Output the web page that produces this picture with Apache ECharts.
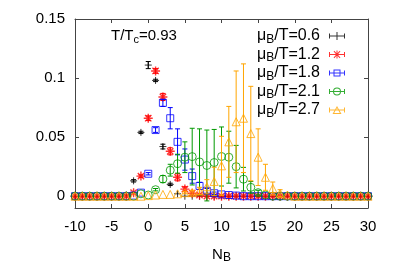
<!DOCTYPE html>
<html><head><meta charset="utf-8">
<script src="https://cdn.jsdelivr.net/npm/echarts@6/dist/echarts.min.js"></script>
<style>html,body{margin:0;padding:0;background:#fff}#c{width:399px;height:279px}</style>
</head><body><div id="c"></div>
<script>
// N_B values (x)
const nb = [-10,-9,-8,-7,-6,-5,-4,-3,-2,-1,0,1,2,3,4,5,6,7,8,9,10,11,12,13,14,15,16,17,18,19,20,21,22,23,24,25,26,27,28,29,30];
// mu_B/T = 0.6
const v06 = [0,0,0,0,0,0,0,0.001,0.013,0.054,0.111,0.098,0.042,0.010,0.002,0,0,0,0,0,0,0,0,0,0,0,0,0,0,0,0,0,0,0,0,0,0,0,0,0,0];
const e06 = [0,0,0,0,0,0,0,0,0.001,0.001,0.003,0.001,0.002,0.001,0,0,0,0,0,0,0,0,0,0,0,0,0,0,0,0,0,0,0,0,0,0,0,0,0,0,0];
// mu_B/T = 1.2
const v12 = [0,0,0,0,0,0,0,0,0.003,0.017,0.066,0.106,0.084,0.038,0.016,0.006,0.0025,0.001,0,0,0,0,0,0,0,0,0,0,0,0,0,0,0,0,0,0,0,0,0,0,0];
const e12 = [0,0,0,0,0,0,0,0,0,0.001,0.002,0.002,0.003,0.003,0.003,0.002,0,0,0,0,0,0,0,0,0,0,0,0,0,0,0,0,0,0,0,0,0,0,0,0,0];
// mu_B/T = 1.8
const v18 = [0,0,0,0,0,0,0,0,0.0005,0.003,0.019,0.056,0.079,0.066,0.046,0.031,0.017,0.0087,0.0045,0.0025,0.0015,0.001,0.0005,0,0,0,0,0,0,0,0,0,0,0,0,0,0,0,0,0,0];
const e18 = [0,0,0,0,0,0,0,0,0,0,0.001,0.002,0.003,0.009,0.011,0.009,0.006,0.003,0.002,0.001,0,0,0,0,0,0,0,0,0,0,0,0,0,0,0,0,0,0,0,0,0];
// mu_B/T = 2.1
const v21 = [0,0,0,0,0,0,0,0,0,0.002,0.001,0.0055,0.0145,0.022,0.0275,0.033,0.0335,0.029,0.026,0.0285,0.0336,0.033,0.025,0.0144,0.0075,0.003,0.001,0,0,0,0,0,0,0,0,0,0,0,0,0,0];
const e21 = [0,0,0,0,0,0,0,0,0,0,0,0.001,0.003,0.005,0.008,0.013,0.024,0.028,0.030,0.028,0.025,0.022,0.018,0.010,0.005,0.002,0,0,0,0,0,0,0,0,0,0,0,0,0,0,0];
// mu_B/T = 2.7
const v27 = [0,0,0,0,0,0,0,0,0,0,0.0005,0.001,0.0015,0.0015,0.002,0.003,0.003,0.0045,0.008,0.0125,0.0257,0.046,0.063,0.066,0.053,0.033,0.016,0.0065,0.0025,0.001,0,0,0,0,0,0,0,0,0,0,0];
const e27 = [0,0,0,0,0,0,0,0,0,0,0,0,0,0,0,0.001,0.002,0.003,0.006,0.012,0.025,0.030,0.043,0.046,0.040,0.024,0.011,0.0055,0.003,0,0,0,0,0,0,0,0,0,0,0,0];
const yTicks = [0, 0.05, 0.1, 0.15];
const names = ['0.6','1.2','1.8','2.1','2.7'];

const FONT = '"Liberation Sans", Arial, sans-serif';
const colors = ['#000000','#ff0000','#0000ff','#009900','#ffa500'];
const vals = [v06,v12,v18,v21,v27];
const errs = [e06,e12,e18,e21,e27];
const symbols = [
  'path://M5 0L5 10M0 5L10 5',
  'path://M5 0L5 10M0 5L10 5M1.5 1.5L8.5 8.5M1.5 8.5L8.5 1.5',
  'rect','circle','triangle'
];
const symSizes = [7,9,7,8,8];
const symBorder = [1,1.4,1,1,1];
// legend icons (16x8 box): error-bar sample with marker
const bar = 'M0 3.5H16V4.5H0Z M0 1.5H1V6.5H0Z M15 1.5H16V6.5H15Z ';
const legIcons = [
  'path://' + bar + 'M7.5 0H8.5V8H7.5Z',
  'path://' + bar + 'M7.5 0H8.5V8H7.5Z M4.6 0.9L5.3 0.2L11.4 7.1L10.7 7.8Z M4.6 7.1L10.7 0.2L11.4 0.9L5.3 7.8Z',
  'path://' + bar + 'M4.5 0.5H11.5V7.5H4.5Z M5.5 1.5V6.5H10.5V1.5Z',
  'path://' + bar + 'M12 4A4 4 0 1 1 4 4A4 4 0 1 1 12 4Z M11 4A3 3 0 1 0 5 4A3 3 0 1 0 11 4Z',
  'path://' + bar + 'M8 0L12.5 8H3.5Z M8 2L5.2 7H10.8Z'
];

const series = [];
const legendData = [];
vals.forEach((vs, k) => {
  const name = 'mu' + names[k];
  const filled = k < 2;
  series.push({
    type: 'custom', name: name + '_err', xAxisIndex: 0, yAxisIndex: 0, z: 2 + k, clip: true,
    silent: true,
    data: nb.map((n, i) => [n, vs[i], errs[k][i]]).filter(d => d[2] > 0),
    renderItem: function (params, api) {
      const x = api.value(0), v = api.value(1), e = api.value(2);
      const lo = api.coord([x, v - e]), hi = api.coord([x, v + e]);
      const c = 2.5;
      const st = { stroke: colors[k], lineWidth: 1, fill: null };
      return { type: 'group', children: [
        { type: 'line', shape: { x1: lo[0], y1: lo[1], x2: hi[0], y2: hi[1] }, style: st },
        { type: 'line', shape: { x1: lo[0] - c, y1: lo[1], x2: lo[0] + c, y2: lo[1] }, style: st },
        { type: 'line', shape: { x1: hi[0] - c, y1: hi[1], x2: hi[0] + c, y2: hi[1] }, style: st }
      ]};
    }
  });
  series.push({
    type: 'scatter', name: name, xAxisIndex: 0, yAxisIndex: 0, z: 2 + k,
    symbol: symbols[k], symbolSize: symSizes[k], silent: true,
    itemStyle: filled ? { color: colors[k], borderColor: colors[k], borderWidth: symBorder[k] }
                      : { color: 'rgba(0,0,0,0)', borderColor: colors[k], borderWidth: symBorder[k] },
    emphasis: { disabled: true },
    data: nb.map((n, i) => [n, vs[i]])
  });
  legendData.push({ name: name, icon: legIcons[k], itemStyle: { color: colors[k], borderWidth: 0 } });
});

const axLine = { show: true, onZero: false, lineStyle: { color: '#444', width: 1 } };
const chart = echarts.init(document.getElementById('c'), null, { renderer: 'canvas' });
chart.setOption({
  animation: false,
  backgroundColor: '#ffffff',
  textStyle: { fontFamily: FONT },
  grid: { left: 75, right: 31, top: 19, bottom: 71 },
  title: {
    text: '{a|T/T}{s|c}{a|=0.93}', left: 106, top: 22,
    textStyle: { rich: {
      a: { fontSize: 15, fontWeight: 'normal', fontFamily: FONT, color: '#000' },
      s: { fontSize: 11, fontWeight: 'normal', fontFamily: FONT, color: '#000', padding: [7, 0, 0, 0] }
    } }
  },
  legend: {
    orient: 'vertical', right: 49, top: 23, align: 'right',
    itemWidth: 16, itemHeight: 8, itemGap: 1, selectedMode: false,
    data: legendData,
    formatter: function (n) { return '{a|\u03bc}{s|B}{a|/T=' + n.slice(2) + '}'; },
    textStyle: { padding: [0, 4, 0, 0], rich: {
      a: { fontSize: 16, fontFamily: FONT, color: '#000' },
      s: { fontSize: 12, fontFamily: FONT, color: '#000', padding: [7, 0, 0, 0] }
    } }
  },
  xAxis: [{
    type: 'value', min: -10, max: 30, interval: 5, position: 'bottom',
    axisLine: axLine,
    axisTick: { show: true, inside: true, length: 4, lineStyle: { color: '#444' } },
    axisLabel: { fontSize: 15, color: '#000', margin: 11, fontFamily: FONT },
    splitLine: { show: false },
    name: '{a|N}{s|B}', nameLocation: 'middle', nameGap: 37,
    nameTextStyle: { rich: {
      a: { fontSize: 15, fontFamily: FONT, color: '#000' },
      s: { fontSize: 12, fontFamily: FONT, color: '#000', padding: [7, 0, 0, 0] }
    } }
  }, {
    type: 'value', min: -10, max: 30, interval: 5, position: 'top',
    axisLine: axLine,
    axisTick: { show: true, inside: true, length: 4, lineStyle: { color: '#444' } },
    axisLabel: { show: false }, splitLine: { show: false }
  }],
  yAxis: [{
    type: 'value', min: -0.01, max: 0.15, position: 'left',
    axisLine: axLine,
    axisTick: { show: true, inside: true, length: 4, customValues: yTicks, lineStyle: { color: '#444' } },
    axisLabel: { fontSize: 15, color: '#000', margin: 10, fontFamily: FONT, customValues: yTicks },
    splitLine: { show: false }
  }, {
    type: 'value', min: -0.01, max: 0.15, position: 'right',
    axisLine: axLine,
    axisTick: { show: true, inside: true, length: 4, customValues: yTicks, lineStyle: { color: '#444' } },
    axisLabel: { show: false }, splitLine: { show: false }
  }],
  series: series
});
</script></body></html>
